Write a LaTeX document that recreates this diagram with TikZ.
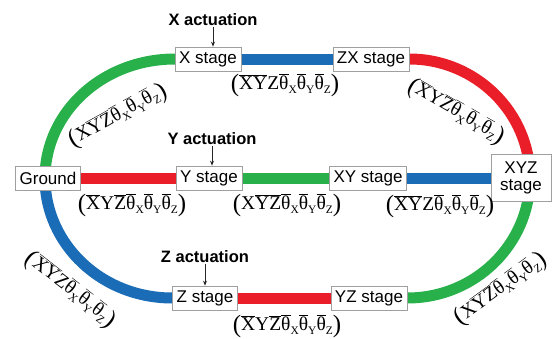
\documentclass[tikz,border=0pt]{standalone}
\usepackage{fontspec}
\setmainfont{Liberation Sans}
\newfontfamily\serifl{Liberation Serif}
\usetikzlibrary{arrows.meta,backgrounds}
\definecolor{cgreen}{RGB}{40,176,74}
\definecolor{cred}{RGB}{234,30,40}
\definecolor{cblue}{RGB}{26,108,183}
\newcommand\ob[1]{\ensuremath{\overline{\hbox{#1}}}}
\newcommand\tb[1]{\ob{θ}\raisebox{-0.22em}{\fontsize{11.5}{12}\selectfont #1}}
\newcommand\lpar{\raisebox{-0.1em}{\fontsize{25}{25}\selectfont(}}
\newcommand\rpar{\raisebox{-0.1em}{\fontsize{25}{25}\selectfont)}}
\newcommand\dof[3]{\lpar#1#2#3\tb{X}\tb{Y}\tb{Z}\rpar}
\tikzset{
  stagebox/.style={draw=gray!75, fill=white, line width=0.6pt, inner xsep=4pt,
    minimum height=24pt, font=\fontsize{17}{19}\selectfont},
  band/.style={line width=11pt},
  actlabel/.style={inner sep=1pt, font=\bfseries\fontsize{16.5}{18}\selectfont},
  actarrow/.style={line width=0.9pt, draw=black!85, -{Stealth[length=5pt,width=4pt]}},
  doflabel/.style={inner sep=0pt, font=\serifl\fontsize{19.5}{20}\selectfont}
}
\begin{document}
\begin{tikzpicture}[x=1pt,y=-1pt]
\useasboundingbox (0,0) rectangle (552,338);
% stages
\node[stagebox] (gnd) at (48,178) {Ground};
\node[stagebox] (xst) at (208,59) {X stage};
\node[stagebox] (zx)  at (371,59) {ZX stage};
\node[stagebox] (yst) at (209,178) {Y stage};
\node[stagebox] (xy)  at (368,178) {XY stage};
\node[stagebox, align=center, minimum width=60pt, minimum height=47pt] (xyz) at (521,178) {XYZ\\[-2pt]stage};
\node[stagebox] (zst) at (205,298) {Z stage};
\node[stagebox] (yz)  at (369,298) {YZ stage};
% connectors
\begin{scope}[on background layer]
\draw[band,cgreen] ([xshift=-3pt]gnd.center) .. controls +(0,-66) and +(-72,0) .. (xst.west);
\draw[band,cblue] (xst.center) -- (zx.center);
\draw[band,cred] (zx.east) .. controls +(66,0) and +(0,-66) .. ([xshift=9pt]xyz.center);
\draw[band,cred] (gnd.center) -- (yst.center);
\draw[band,cgreen] (yst.center) -- (xy.center);
\draw[band,cblue] (xy.center) -- (xyz.center);
\draw[band,cblue] ([xshift=-3pt]gnd.center) .. controls +(0,66) and +(-71,0) .. (zst.west);
\draw[band,cred] (zst.center) -- (yz.center);
\draw[band,cgreen] (yz.east) .. controls +(68,0) and +(0,66) .. ([xshift=9pt]xyz.center);
\end{scope}
% actuations
\node[actlabel] (xa) at (213,20) {X actuation};
\draw[actarrow] (xa.south) -- (xa.south |- xst.north);
\node[actlabel] (ya) at (212,139) {Y actuation};
\draw[actarrow] (ya.south) -- (ya.south |- yst.north);
\node[actlabel] (za) at (205,257) {Z actuation};
\draw[actarrow] (za.south) -- (za.south |- zst.north);
% dof labels
\node[doflabel, rotate=29] (l1) at (118,116) {\dof{X}{\ob{Y}}{\ob{Z}}};
\node[doflabel] (l2) at (285,85) {\dof{\ob{X}}{\ob{Y}}{Z}};
\node[doflabel, rotate=-30] (l3) at (456,112) {\dof{\ob{X}}{Y}{\ob{Z}}};
\node[doflabel] (l4) at (132,205) {\dof{\ob{X}}{Y}{\ob{Z}}};
\node[doflabel] (l5) at (287,205) {\dof{X}{\ob{Y}}{\ob{Z}}};
\node[doflabel] (l6) at (440,206) {\dof{\ob{X}}{\ob{Y}}{Z}};
\node[doflabel, rotate=-38] (l7) at (70,290) {\dof{\ob{X}}{\ob{Y}}{Z}};
\node[doflabel] (l8) at (287,326) {\dof{\ob{X}}{Y}{\ob{Z}}};
\node[doflabel, rotate=36] (l9) at (501,289) {\dof{X}{\ob{Y}}{\ob{Z}}};
\end{tikzpicture}
\end{document}
